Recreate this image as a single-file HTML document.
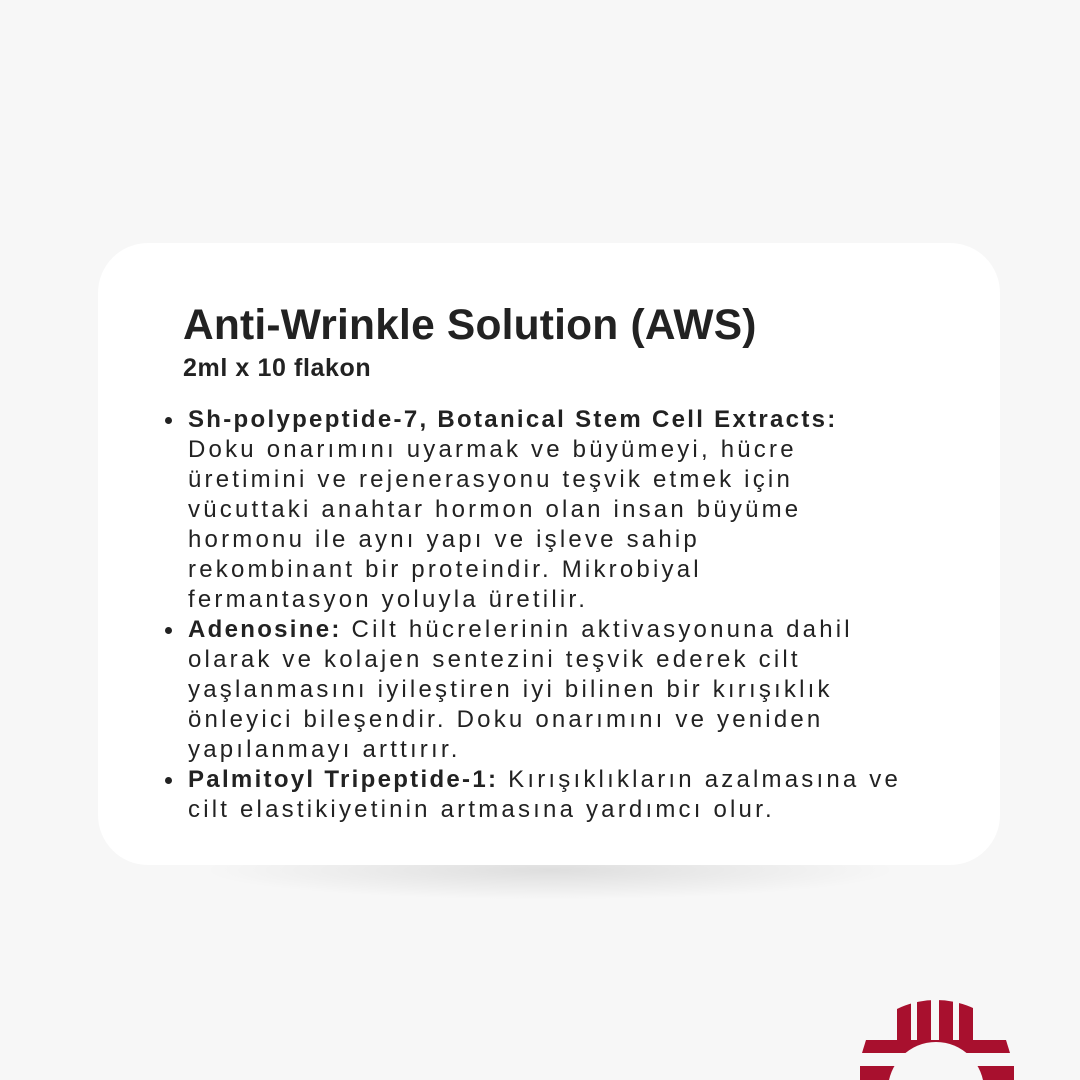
<!DOCTYPE html>
<html><head><meta charset="utf-8"><style>
html,body{margin:0;padding:0}
body{width:1080px;height:1080px;background:#f7f7f7;position:relative;overflow:hidden;font-family:"Liberation Sans",sans-serif;color:#222}
.shadow{position:absolute;left:200px;top:840px;width:700px;height:60px;border-radius:50%;background:radial-gradient(ellipse at center,rgba(0,0,0,0.10),rgba(0,0,0,0) 70%)}
.card{position:absolute;left:98px;top:243px;width:902px;height:622px;background:#fff;border-radius:50px}
h1{position:absolute;left:183px;top:302px;margin:0;font-size:42.5px;font-weight:bold;white-space:nowrap;letter-spacing:0.2px}
.sub{position:absolute;left:183px;top:354px;font-size:25px;font-weight:bold;white-space:nowrap;letter-spacing:0.6px}
.list{position:absolute;left:188px;top:405px;font-size:24px;line-height:30px;letter-spacing:3.2px;white-space:nowrap}
.list div{height:30px;position:relative}
.b{font-weight:bold;letter-spacing:2.3px}
.dot{position:absolute;left:-23px;top:0;width:7px;height:7px;border-radius:50%;background:#222;margin-top:12px}
</style></head><body>
<div class="shadow"></div>
<div class="card"></div>
<h1>Anti-Wrinkle Solution (AWS)</h1>
<div class="sub">2ml x 10 flakon</div>
<div class="list">
<div><span class="dot"></span><span class="b">Sh-polypeptide-7, Botanical Stem Cell Extracts:</span></div>
<div>Doku onarımını uyarmak ve büyümeyi, hücre</div>
<div>üretimini ve rejenerasyonu teşvik etmek için</div>
<div>vücuttaki anahtar hormon olan insan büyüme</div>
<div>hormonu ile aynı yapı ve işleve sahip</div>
<div>rekombinant bir proteindir. Mikrobiyal</div>
<div>fermantasyon yoluyla üretilir.</div>
<div><span class="dot"></span><span class="b">Adenosine:</span> Cilt hücrelerinin aktivasyonuna dahil</div>
<div>olarak ve kolajen sentezini teşvik ederek cilt</div>
<div>yaşlanmasını iyileştiren iyi bilinen bir kırışıklık</div>
<div>önleyici bileşendir. Doku onarımını ve yeniden</div>
<div>yapılanmayı arttırır.</div>
<div><span class="dot"></span><span class="b">Palmitoyl Tripeptide-1:</span> Kırışıklıkların azalmasına ve</div>
<div>cilt elastikiyetinin artmasına yardımcı olur.</div>
</div>
<svg style="position:absolute;left:0;top:0;display:block" width="1080" height="1080">
<defs><clipPath id="c"><circle cx="936" cy="1090" r="90"/></clipPath></defs>
<g fill="#a8102e" clip-path="url(#c)">
<rect x="897" y="995" width="14" height="100"/>
<rect x="917" y="995" width="14" height="100"/>
<rect x="939" y="995" width="14" height="100"/>
<rect x="959" y="995" width="14" height="100"/>
</g>
<g fill="#a8102e">
<polygon points="866,1040 1006,1040 1010,1053 862,1053"/>
<rect x="860" y="1066" width="154" height="14"/>
</g>
<rect x="860" y="1053" width="154" height="13" fill="#f7f7f7"/>
<circle cx="936" cy="1090" r="48" fill="#f7f7f7"/>
</svg>
</body></html>
